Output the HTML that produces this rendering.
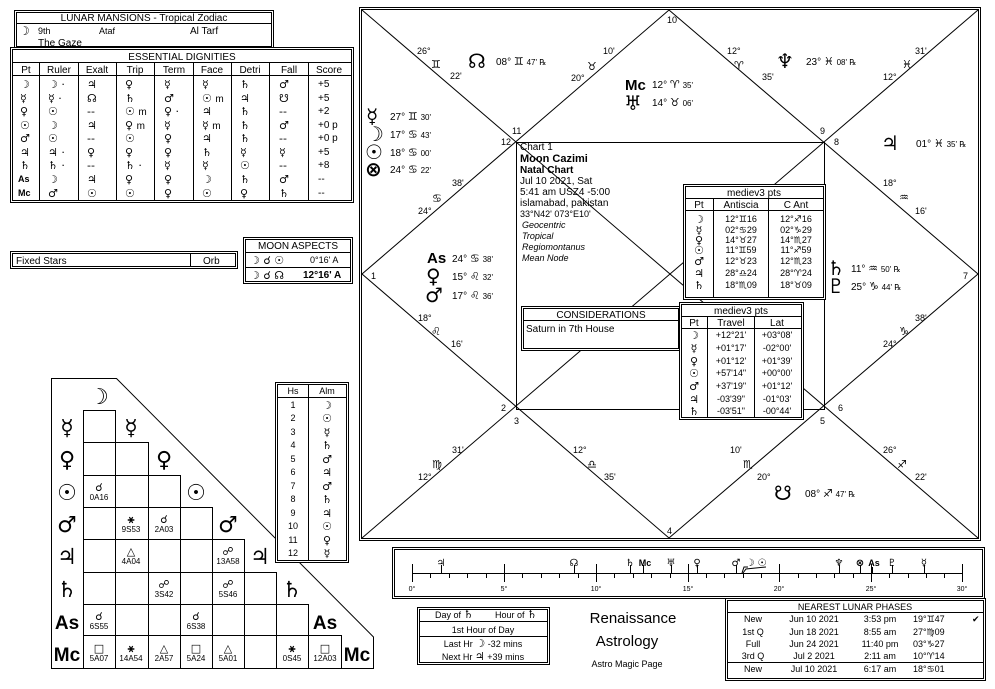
<!DOCTYPE html>
<html><head><meta charset="utf-8"><style>
html,body{margin:0;padding:0;background:#fff;}
svg{display:block;font-family:"Liberation Sans","DejaVu Sans",sans-serif;font-size:10px;fill:#000;}
.g{font-family:"DejaVu Sans",sans-serif;}
.b{font-weight:bold;}
.c{text-anchor:middle;}
.s{font-size:9px;}
.big{font-family:"DejaVu Sans",sans-serif;font-weight:bold;font-size:22px;}
.pl{font-family:"DejaVu Sans",sans-serif;font-weight:bold;font-size:20px;}
.zs{font-family:"DejaVu Sans",sans-serif;font-size:11px;}
.L{font-family:"Liberation Sans",sans-serif;}
</style></head><body>
<svg width="995" height="689" viewBox="0 0 995 689" xmlns="http://www.w3.org/2000/svg">
<g fill="none" stroke="#000" stroke-width="1">
<rect x="14.5" y="10.5" width="259" height="38"/><rect x="16.5" y="12.5" width="255" height="34"/>
<line x1="16" y1="23.5" x2="272" y2="23.5"/>
<rect x="10.5" y="47.5" width="343" height="155" fill="#fff"/><rect x="12.5" y="49.5" width="339" height="151"/>
<line x1="13" y1="62.5" x2="351" y2="62.5"/><line x1="13" y1="75.5" x2="351" y2="75.5"/>
<line x1="39.5" y1="63" x2="39.5" y2="200"/><line x1="78.5" y1="63" x2="78.5" y2="200"/><line x1="116.5" y1="63" x2="116.5" y2="200"/><line x1="154.5" y1="63" x2="154.5" y2="200"/><line x1="193.5" y1="63" x2="193.5" y2="200"/><line x1="231.5" y1="63" x2="231.5" y2="200"/><line x1="269.5" y1="63" x2="269.5" y2="200"/><line x1="308.5" y1="63" x2="308.5" y2="200"/>
<rect x="10.5" y="251.5" width="227" height="17"/><rect x="12.5" y="253.5" width="223" height="13"/><line x1="190.5" y1="253" x2="190.5" y2="267"/>
<rect x="243.5" y="237.5" width="109" height="46"/><rect x="245.5" y="239.5" width="105" height="42"/><line x1="246" y1="252.5" x2="350" y2="252.5"/><line x1="246" y1="267.5" x2="350" y2="267.5"/>
<polygon points="51.5,378.5 116.5,378.5 373.5,637 373.5,668.5 51.5,668.5"/>
<polyline points="83.5,668 83.5,410.5 115.5,410.5 115.5,442.5 148.5,442.5 148.5,475.5 180.5,475.5 180.5,507.5 212.5,507.5 212.5,539.5 244.5,539.5 244.5,572.5 276.5,572.5 276.5,604.5 308.5,604.5 308.5,635.5 341.5,635.5 341.5,668"/>
<line x1="83" y1="442.5" x2="115" y2="442.5"/><line x1="83" y1="475.5" x2="148" y2="475.5"/><line x1="83" y1="507.5" x2="180" y2="507.5"/><line x1="83" y1="539.5" x2="212" y2="539.5"/><line x1="83" y1="572.5" x2="244" y2="572.5"/><line x1="83" y1="604.5" x2="276" y2="604.5"/><line x1="83" y1="635.5" x2="308" y2="635.5"/>
<line x1="115.5" y1="442" x2="115.5" y2="668"/><line x1="148.5" y1="475" x2="148.5" y2="668"/><line x1="180.5" y1="507" x2="180.5" y2="668"/><line x1="212.5" y1="539" x2="212.5" y2="668"/><line x1="244.5" y1="572" x2="244.5" y2="668"/><line x1="276.5" y1="604" x2="276.5" y2="668"/><line x1="308.5" y1="635" x2="308.5" y2="668"/>
<rect x="275.5" y="382.5" width="73" height="180" fill="#fff"/><rect x="277.5" y="384.5" width="69" height="176"/><line x1="278" y1="397.5" x2="346" y2="397.5"/><line x1="308.5" y1="385" x2="308.5" y2="560"/>
<rect x="359.5" y="7.5" width="621" height="533"/><rect x="361.5" y="9.5" width="617" height="529"/>
<polyline points="362,10 978,538"/><polyline points="978,10 362,538"/>
<polygon points="669,10 978,274 669,538 362,274"/>
<rect x="516.5" y="142.5" width="308" height="267"/>
<rect x="683.5" y="184.5" width="142" height="115" fill="#fff"/><rect x="685.5" y="186.5" width="138" height="111"/><line x1="686" y1="198.5" x2="823" y2="198.5"/><line x1="686" y1="210.5" x2="823" y2="210.5"/><line x1="713.5" y1="199" x2="713.5" y2="297"/><line x1="768.5" y1="199" x2="768.5" y2="297"/>
<rect x="521.5" y="306.5" width="159" height="44" fill="#fff"/><rect x="523.5" y="308.5" width="155" height="40"/><line x1="524" y1="320.5" x2="678" y2="320.5"/>
<rect x="679.5" y="302.5" width="124" height="117" fill="#fff"/><rect x="681.5" y="304.5" width="120" height="113"/><line x1="682" y1="316.5" x2="801" y2="316.5"/><line x1="682" y1="328.5" x2="801" y2="328.5"/><line x1="707.5" y1="317" x2="707.5" y2="417"/><line x1="754.5" y1="317" x2="754.5" y2="417"/>
<rect x="392.5" y="547.5" width="592" height="51"/><rect x="394.5" y="549.5" width="588" height="47"/>
<line x1="412" y1="573.5" x2="962" y2="573.5"/>
<rect x="417.5" y="607.5" width="132" height="57"/><rect x="419.5" y="609.5" width="128" height="53"/><line x1="420" y1="621.5" x2="547" y2="621.5"/><line x1="420" y1="636.5" x2="547" y2="636.5"/>
<rect x="725.5" y="598.5" width="260" height="82" fill="#fff"/><rect x="727.5" y="600.5" width="256" height="78"/><line x1="728" y1="612.5" x2="983" y2="612.5"/><line x1="728" y1="662.5" x2="983" y2="662.5"/>
</g>
<g stroke="#000" stroke-width="1">
<line x1="412.5" y1="564" x2="412.5" y2="582"/><line x1="504.5" y1="564" x2="504.5" y2="582"/><line x1="596.5" y1="564" x2="596.5" y2="582"/><line x1="688.5" y1="564" x2="688.5" y2="582"/><line x1="779.5" y1="564" x2="779.5" y2="582"/><line x1="871.5" y1="564" x2="871.5" y2="582"/><line x1="962.5" y1="564" x2="962.5" y2="582"/>
<line x1="430.5" y1="573" x2="430.5" y2="578"/><line x1="449.5" y1="573" x2="449.5" y2="578"/><line x1="467.5" y1="573" x2="467.5" y2="578"/><line x1="486.5" y1="573" x2="486.5" y2="578"/>
<line x1="522.5" y1="573" x2="522.5" y2="578"/><line x1="541.5" y1="573" x2="541.5" y2="578"/><line x1="559.5" y1="573" x2="559.5" y2="578"/><line x1="578.5" y1="573" x2="578.5" y2="578"/>
<line x1="614.5" y1="573" x2="614.5" y2="578"/><line x1="633.5" y1="573" x2="633.5" y2="578"/><line x1="651.5" y1="573" x2="651.5" y2="578"/><line x1="670.5" y1="573" x2="670.5" y2="578"/>
<line x1="706.5" y1="573" x2="706.5" y2="578"/><line x1="724.5" y1="573" x2="724.5" y2="578"/><line x1="743.5" y1="573" x2="743.5" y2="578"/><line x1="761.5" y1="573" x2="761.5" y2="578"/>
<line x1="798.5" y1="573" x2="798.5" y2="578"/><line x1="816.5" y1="573" x2="816.5" y2="578"/><line x1="834.5" y1="573" x2="834.5" y2="578"/><line x1="853.5" y1="573" x2="853.5" y2="578"/>
<line x1="889.5" y1="573" x2="889.5" y2="578"/><line x1="908.5" y1="573" x2="908.5" y2="578"/><line x1="926.5" y1="573" x2="926.5" y2="578"/><line x1="944.5" y1="573" x2="944.5" y2="578"/>
<line x1="441.5" y1="565" x2="441.5" y2="573"/><line x1="574.5" y1="565" x2="574.5" y2="573"/><line x1="630.5" y1="565" x2="630.5" y2="573"/><line x1="643.5" y1="565" x2="643.5" y2="573"/><line x1="671.5" y1="565" x2="671.5" y2="573"/><line x1="697.5" y1="565" x2="697.5" y2="573"/><line x1="736.5" y1="565" x2="736.5" y2="573"/><line x1="839.5" y1="565" x2="839.5" y2="573"/><line x1="860.5" y1="565" x2="860.5" y2="573"/><line x1="872.5" y1="567" x2="872.5" y2="573"/><line x1="892.5" y1="565" x2="892.5" y2="573"/><line x1="924.5" y1="565" x2="924.5" y2="573"/>
<polyline fill="none" points="742,573 744,567 748,567"/><polyline fill="none" points="743,573 746,569 766,567"/>
</g>

<text x="144" y="21" class="c">LUNAR MANSIONS - Tropical Zodiac</text>
<text x="19" y="35" class="g b" style="font-size:12px">☽</text><text x="38" y="34" class="s">9th</text><text x="99" y="34" class="s">Ataf</text><text x="190" y="34">Al Tarf</text>
<text x="38" y="46">The Gaze</text>
<text x="182" y="60" class="c">ESSENTIAL DIGNITIES</text>
<g class="c">
<text x="26" y="73">Pt</text><text x="59" y="73">Ruler</text><text x="97" y="73">Exalt</text><text x="135" y="73">Trip</text><text x="174" y="73">Term</text><text x="212" y="73">Face</text><text x="250" y="73">Detri</text><text x="289" y="73">Fall</text><text x="329" y="73">Score</text>
</g>
<g class="g" style="font-size:11px">
<text x="20" y="88" class="b">☽</text><text x="20" y="102" class="b">☿</text><text x="20" y="115" class="b">♀</text><text x="20" y="129" class="b">☉</text><text x="20" y="142" class="b">♂</text><text x="20" y="156" class="b">♃</text><text x="20" y="169" class="b">♄</text><text x="18" y="182" class="b L" style="font-size:9px">As</text><text x="18" y="196" class="b L" style="font-size:9px">Mc</text>
<text x="48" y="88">☽ ·</text><text x="87" y="88">♃</text><text x="125" y="88">♀</text><text x="164" y="88">☿</text><text x="202" y="88">☿</text><text x="240" y="88">♄</text><text x="279" y="88">♂</text>
<text x="48" y="102">☿ ·</text><text x="87" y="102">☊</text><text x="125" y="102">♄</text><text x="164" y="102">♂</text><text x="202" y="102">☉ <tspan class="L" style="font-size:10px">m</tspan></text><text x="240" y="102">♃</text><text x="279" y="102">☋</text>
<text x="48" y="115">☉</text><text x="87" y="115">--</text><text x="125" y="115">☉ <tspan class="L" style="font-size:10px">m</tspan></text><text x="164" y="115">♀ ·</text><text x="202" y="115">♃</text><text x="240" y="115">♄</text><text x="279" y="115">--</text>
<text x="48" y="129">☽</text><text x="87" y="129">♃</text><text x="125" y="129">♀ <tspan class="L" style="font-size:10px">m</tspan></text><text x="164" y="129">☿</text><text x="202" y="129">☿ <tspan class="L" style="font-size:10px">m</tspan></text><text x="240" y="129">♄</text><text x="279" y="129">♂</text>
<text x="48" y="142">☉</text><text x="87" y="142">--</text><text x="125" y="142">☉</text><text x="164" y="142">♀</text><text x="202" y="142">♃</text><text x="240" y="142">♄</text><text x="279" y="142">--</text>
<text x="48" y="156">♃ ·</text><text x="87" y="156">♀</text><text x="125" y="156">♀</text><text x="164" y="156">♀</text><text x="202" y="156">♄</text><text x="240" y="156">☿</text><text x="279" y="156">☿</text>
<text x="48" y="169">♄ ·</text><text x="87" y="169">--</text><text x="125" y="169">♄ ·</text><text x="164" y="169">☿</text><text x="202" y="169">☿</text><text x="240" y="169">☉</text><text x="279" y="169">--</text>
<text x="48" y="183">☽</text><text x="87" y="183">♃</text><text x="125" y="183">♀</text><text x="164" y="183">♀</text><text x="202" y="183">☽</text><text x="240" y="183">♄</text><text x="279" y="183">♂</text>
<text x="48" y="197">♂</text><text x="87" y="197">☉</text><text x="125" y="197">☉</text><text x="164" y="197">♀</text><text x="202" y="197">☉</text><text x="240" y="197">♀</text><text x="279" y="197">♄</text>
</g>
<text x="318" y="87">+5</text><text x="318" y="101">+5</text><text x="318" y="114">+2</text><text x="318" y="128">+0  p</text><text x="318" y="141">+0  p</text><text x="318" y="155">+5</text><text x="318" y="168">+8</text><text x="318" y="182">--</text><text x="318" y="196">--</text>

<text x="16" y="264">Fixed Stars</text><text x="203" y="264">Orb</text>
<text x="298" y="249" class="c">MOON ASPECTS</text>
<text x="250" y="264" class="g" style="font-size:11px">☽  ☌  ☉</text><text x="310" y="263" class="s">0°16' A</text>
<text x="250" y="279" class="g" style="font-size:11px">☽  ☌  ☊</text><text x="303" y="278" class="b">12°16' A</text>

<g class="big">
<text x="99" y="404" class="c">☽</text>
<text x="67" y="435" class="c">☿</text><text x="131" y="435" class="c">☿</text>
<text x="67" y="467" class="c">♀</text><text x="164" y="467" class="c">♀</text>
<text x="67" y="500" class="c">☉</text><text x="196" y="500" class="c">☉</text>
<text x="67" y="532" class="c">♂</text><text x="228" y="532" class="c">♂</text>
<text x="67" y="564" class="c">♃</text><text x="260" y="564" class="c">♃</text>
<text x="67" y="597" class="c">♄</text><text x="292" y="597" class="c">♄</text>
<text x="67" y="629" class="c L" style="font-size:19px">As</text><text x="325" y="629" class="c L" style="font-size:19px">As</text>
<text x="67" y="661" class="c L" style="font-size:19px">Mc</text><text x="357" y="661" class="c L" style="font-size:19px">Mc</text>
</g>
<g class="c" style="font-size:8px">
<g class="g b" style="font-size:11px">
<text x="99" y="491">☌</text><text x="131" y="523">⚹</text><text x="164" y="523">☌</text><text x="131" y="555">△</text><text x="228" y="555">☍</text><text x="164" y="588">☍</text><text x="228" y="588">☍</text><text x="99" y="620">☌</text><text x="196" y="620">☌</text><text x="99" y="652">□</text><text x="131" y="652">⚹</text><text x="164" y="652">△</text><text x="196" y="652">□</text><text x="228" y="652">△</text><text x="292" y="652">⚹</text><text x="325" y="652">□</text>
</g>
<text x="99" y="500">0A16</text><text x="131" y="532">9S53</text><text x="164" y="532">2A03</text><text x="131" y="564">4A04</text><text x="228" y="564">13A58</text><text x="164" y="597">3S42</text><text x="228" y="597">5S46</text><text x="99" y="629">6S55</text><text x="196" y="629">6S38</text><text x="99" y="661">5A07</text><text x="131" y="661">14A54</text><text x="164" y="661">2A57</text><text x="196" y="661">5A24</text><text x="228" y="661">5A01</text><text x="292" y="661">0S45</text><text x="325" y="661">12A03</text>
</g>
<g class="c" style="font-size:9px">
<text x="293" y="394">Hs</text><text x="327" y="394">Alm</text>
<text x="293" y="408">1</text><text x="293" y="421">2</text><text x="293" y="435">3</text><text x="293" y="448">4</text><text x="293" y="462">5</text><text x="293" y="475">6</text><text x="293" y="489">7</text><text x="293" y="502">8</text><text x="293" y="516">9</text><text x="293" y="529">10</text><text x="293" y="543">11</text><text x="293" y="556">12</text>
</g>
<g class="c g" style="font-size:11px">
<text x="327" y="409">☽</text><text x="327" y="422">☉</text><text x="327" y="436">☿</text><text x="327" y="449">♄</text><text x="327" y="463">♂</text><text x="327" y="476">♃</text><text x="327" y="490">♂</text><text x="327" y="503">♄</text><text x="327" y="517">♃</text><text x="327" y="530">☉</text><text x="327" y="544">♀</text><text x="327" y="557">☿</text>
</g>

<g style="font-size:9px">
<text x="667" y="23">10</text><text x="512" y="134">11</text><text x="501" y="145">12</text><text x="820" y="134">9</text><text x="834" y="145">8</text>
<text x="371" y="279">1</text><text x="963" y="279">7</text>
<text x="501" y="411">2</text><text x="514" y="424">3</text><text x="838" y="411">6</text><text x="820" y="424">5</text><text x="667" y="534">4</text>
<text x="417" y="54">26°</text><text x="431" y="68" class="zs">♊</text><text x="450" y="79">22'</text>
<text x="603" y="54">10'</text><text x="587" y="70" class="zs">♉</text><text x="571" y="81">20°</text>
<text x="727" y="54">12°</text><text x="734" y="69" class="zs">♈</text><text x="762" y="80">35'</text>
<text x="915" y="54">31'</text><text x="902" y="68" class="zs">♓</text><text x="883" y="80">12°</text>
<text x="452" y="186">38'</text><text x="432" y="202" class="zs">♋</text><text x="418" y="214">24°</text>
<text x="883" y="186">18°</text><text x="899" y="201" class="zs">♒</text><text x="915" y="214">16'</text>
<text x="418" y="321">18°</text><text x="431" y="335" class="zs">♌</text><text x="451" y="347">16'</text>
<text x="915" y="321">38'</text><text x="899" y="335" class="zs">♑</text><text x="883" y="347">24°</text>
<text x="452" y="453">31'</text><text x="432" y="468" class="zs">♍</text><text x="418" y="480">12°</text>
<text x="573" y="453">12°</text><text x="587" y="468" class="zs">♎</text><text x="604" y="480">35'</text>
<text x="730" y="453">10'</text><text x="743" y="468" class="zs">♏</text><text x="757" y="480">20°</text>
<text x="883" y="453">26°</text><text x="897" y="468" class="zs">♐</text><text x="915" y="480">22'</text>
</g>
<g>
<text x="468" y="68" class="pl">☊</text><text x="496" y="65">08° <tspan class="zs">♊</tspan> <tspan style="font-size:8px">47' ℞</tspan></text>
<text x="625" y="90" class="b" style="font-size:15px">Mc</text><text x="652" y="88">12° <tspan class="zs">♈</tspan> <tspan style="font-size:8px">35'</tspan></text>
<text x="624" y="110" class="pl">♅</text><text x="652" y="106">14° <tspan class="zs">♉</tspan> <tspan style="font-size:8px">06'</tspan></text>
<text x="776" y="68" class="pl">♆</text><text x="806" y="65">23° <tspan class="zs">♓</tspan> <tspan style="font-size:8px">08' ℞</tspan></text>
<text x="366" y="123" class="pl">☿</text><text x="390" y="120">27° <tspan class="zs">♊</tspan> <tspan style="font-size:8px">30'</tspan></text>
<text x="366" y="141" class="pl">☽</text><text x="390" y="138">17° <tspan class="zs">♋</tspan> <tspan style="font-size:8px">43'</tspan></text>
<text x="365" y="159" class="pl">☉</text><text x="390" y="156">18° <tspan class="zs">♋</tspan> <tspan style="font-size:8px">00'</tspan></text>
<text x="365" y="176" class="pl">⊗</text><text x="390" y="173">24° <tspan class="zs">♋</tspan> <tspan style="font-size:8px">22'</tspan></text>
<text x="881" y="150" class="pl">♃</text><text x="916" y="147">01° <tspan class="zs">♓</tspan> <tspan style="font-size:8px">35' ℞</tspan></text>
<text x="427" y="263" class="b" style="font-size:15px">As</text><text x="452" y="262">24° <tspan class="zs">♋</tspan> <tspan style="font-size:8px">38'</tspan></text>
<text x="426" y="283" class="pl">♀</text><text x="452" y="280">15° <tspan class="zs">♌</tspan> <tspan style="font-size:8px">32'</tspan></text>
<text x="425" y="302" class="pl">♂</text><text x="452" y="299">17° <tspan class="zs">♌</tspan> <tspan style="font-size:8px">36'</tspan></text>
<text x="827" y="275" class="pl">♄</text><text x="851" y="272">11° <tspan class="zs">♒</tspan> <tspan style="font-size:8px">50' ℞</tspan></text>
<text x="827" y="293" class="pl">♇</text><text x="851" y="290">25° <tspan class="zs">♑</tspan> <tspan style="font-size:8px">44' ℞</tspan></text>
<text x="774" y="500" class="pl">☋</text><text x="805" y="497">08° <tspan class="zs">♐</tspan> <tspan style="font-size:8px">47' ℞</tspan></text>
</g>
<text x="520" y="150">Chart 1</text>
<text x="520" y="162" class="b" style="font-size:11px">Moon Cazimi</text>
<text x="520" y="173" class="b">Natal Chart</text>
<text x="520" y="184">Jul 10 2021, Sat</text>
<text x="520" y="195">5:41 am  USZ4 -5:00</text>
<text x="520" y="206">islamabad, pakistan</text>
<text x="520" y="217" class="s">33°N42' 073°E10'</text>
<g style="font-style:italic;font-size:9px"><text x="522" y="228">Geocentric</text><text x="522" y="239">Tropical</text><text x="522" y="250">Regiomontanus</text><text x="522" y="261">Mean Node</text></g>
<text x="754" y="196" class="c">mediev3 pts</text>
<text x="699" y="208" class="c">Pt</text><text x="741" y="208" class="c">Antiscia</text><text x="796" y="208" class="c">C Ant</text>
<g class="g c b" style="font-size:11px"><text x="699" y="223">☽</text><text x="699" y="234">☿</text><text x="699" y="244">♀</text><text x="699" y="254">☉</text><text x="699" y="265">♂</text><text x="699" y="277">♃</text><text x="699" y="289">♄</text></g>
<g class="c s">
<text x="741" y="222">12°♊16</text><text x="796" y="222">12°♐16</text>
<text x="741" y="233">02°♋29</text><text x="796" y="233">02°♑29</text>
<text x="741" y="243">14°♉27</text><text x="796" y="243">14°♏27</text>
<text x="741" y="253">11°♊59</text><text x="796" y="253">11°♐59</text>
<text x="741" y="264">12°♉23</text><text x="796" y="264">12°♏23</text>
<text x="741" y="276">28°♎24</text><text x="796" y="276">28°♈24</text>
<text x="741" y="288">18°♏09</text><text x="796" y="288">18°♉09</text>
</g>
<text x="601" y="318" class="c">CONSIDERATIONS</text>
<text x="526" y="332">Saturn in 7th House</text>
<text x="741" y="314" class="c">mediev3 pts</text>
<text x="694" y="326" class="c">Pt</text><text x="731" y="326" class="c">Travel</text><text x="777" y="326" class="c">Lat</text>
<g class="g c b" style="font-size:11px"><text x="694" y="339">☽</text><text x="694" y="352">☿</text><text x="694" y="365">♀</text><text x="694" y="377">☉</text><text x="694" y="390">♂</text><text x="694" y="403">♃</text><text x="694" y="415">♄</text></g>
<g class="c s">
<text x="731" y="338">+12°21'</text><text x="777" y="338">+03°08'</text>
<text x="731" y="351">+01°17'</text><text x="777" y="351">-02°00'</text>
<text x="731" y="364">+01°12'</text><text x="777" y="364">+01°39'</text>
<text x="731" y="376">+57'14"</text><text x="777" y="376">+00°00'</text>
<text x="731" y="389">+37'19"</text><text x="777" y="389">+01°12'</text>
<text x="731" y="402">-03'39"</text><text x="777" y="402">-01°03'</text>
<text x="731" y="414">-03'51"</text><text x="777" y="414">-00°44'</text>
</g>
<g class="c" style="font-size:7px">
<text x="412" y="591">0°</text><text x="504" y="591">5°</text><text x="596" y="591">10°</text><text x="688" y="591">15°</text><text x="779" y="591">20°</text><text x="871" y="591">25°</text><text x="962" y="591">30°</text>
</g>
<g class="g c b" style="font-size:10px">
<text x="441" y="566">♃</text><text x="574" y="566">☊</text><text x="630" y="566">♄</text><text x="645" y="566" class="L" style="font-size:9px">Mc</text><text x="671" y="566">♅</text><text x="697" y="566">♀</text><text x="736" y="566">♂</text><text x="750" y="566">☽</text><text x="762" y="566">☉</text><text x="839" y="566">♆</text><text x="860" y="566">⊗</text><text x="874" y="566" class="L" style="font-size:9px">As</text><text x="892" y="566">♇</text><text x="924" y="566">☿</text>
</g>
<text x="435" y="618" class="s">Day of <tspan class="g b" style="font-size:11px">♄</tspan></text><text x="495" y="618" class="s">Hour of <tspan class="g b" style="font-size:11px">♄</tspan></text>
<text x="483" y="633" class="c s">1st Hour of Day</text>
<text x="483" y="647" class="c s">Last Hr <tspan class="g" style="font-size:11px">☽</tspan> -32 mins</text>
<text x="483" y="660" class="c s">Next Hr <tspan class="g" style="font-size:11px">♃</tspan> +39 mins</text>
<text x="633" y="623" class="c" style="font-size:15px">Renaissance</text>
<text x="627" y="646" class="c" style="font-size:15px">Astrology</text>
<text x="627" y="667" class="c s">Astro Magic Page</text>
<text x="855" y="610" class="c s">NEAREST LUNAR PHASES</text>
<g class="s">
<text x="753" y="622" class="c">New</text><text x="814" y="622" class="c">Jun 10 2021</text><text x="880" y="622" class="c">3:53 pm</text><text x="913" y="622">19°♊47</text><text x="972" y="622" class="g">✔</text>
<text x="753" y="635" class="c">1st Q</text><text x="814" y="635" class="c">Jun 18 2021</text><text x="880" y="635" class="c">8:55 am</text><text x="913" y="635">27°♍09</text>
<text x="753" y="647" class="c">Full</text><text x="814" y="647" class="c">Jun 24 2021</text><text x="880" y="647" class="c">11:40 pm</text><text x="913" y="647">03°♑27</text>
<text x="753" y="659" class="c">3rd Q</text><text x="814" y="659" class="c">Jul 2 2021</text><text x="880" y="659" class="c">2:11 am</text><text x="913" y="659">10°♈14</text>
<text x="753" y="672" class="c">New</text><text x="814" y="672" class="c">Jul 10 2021</text><text x="880" y="672" class="c">6:17 am</text><text x="913" y="672">18°♋01</text>
</g>
</svg>
</body></html>
